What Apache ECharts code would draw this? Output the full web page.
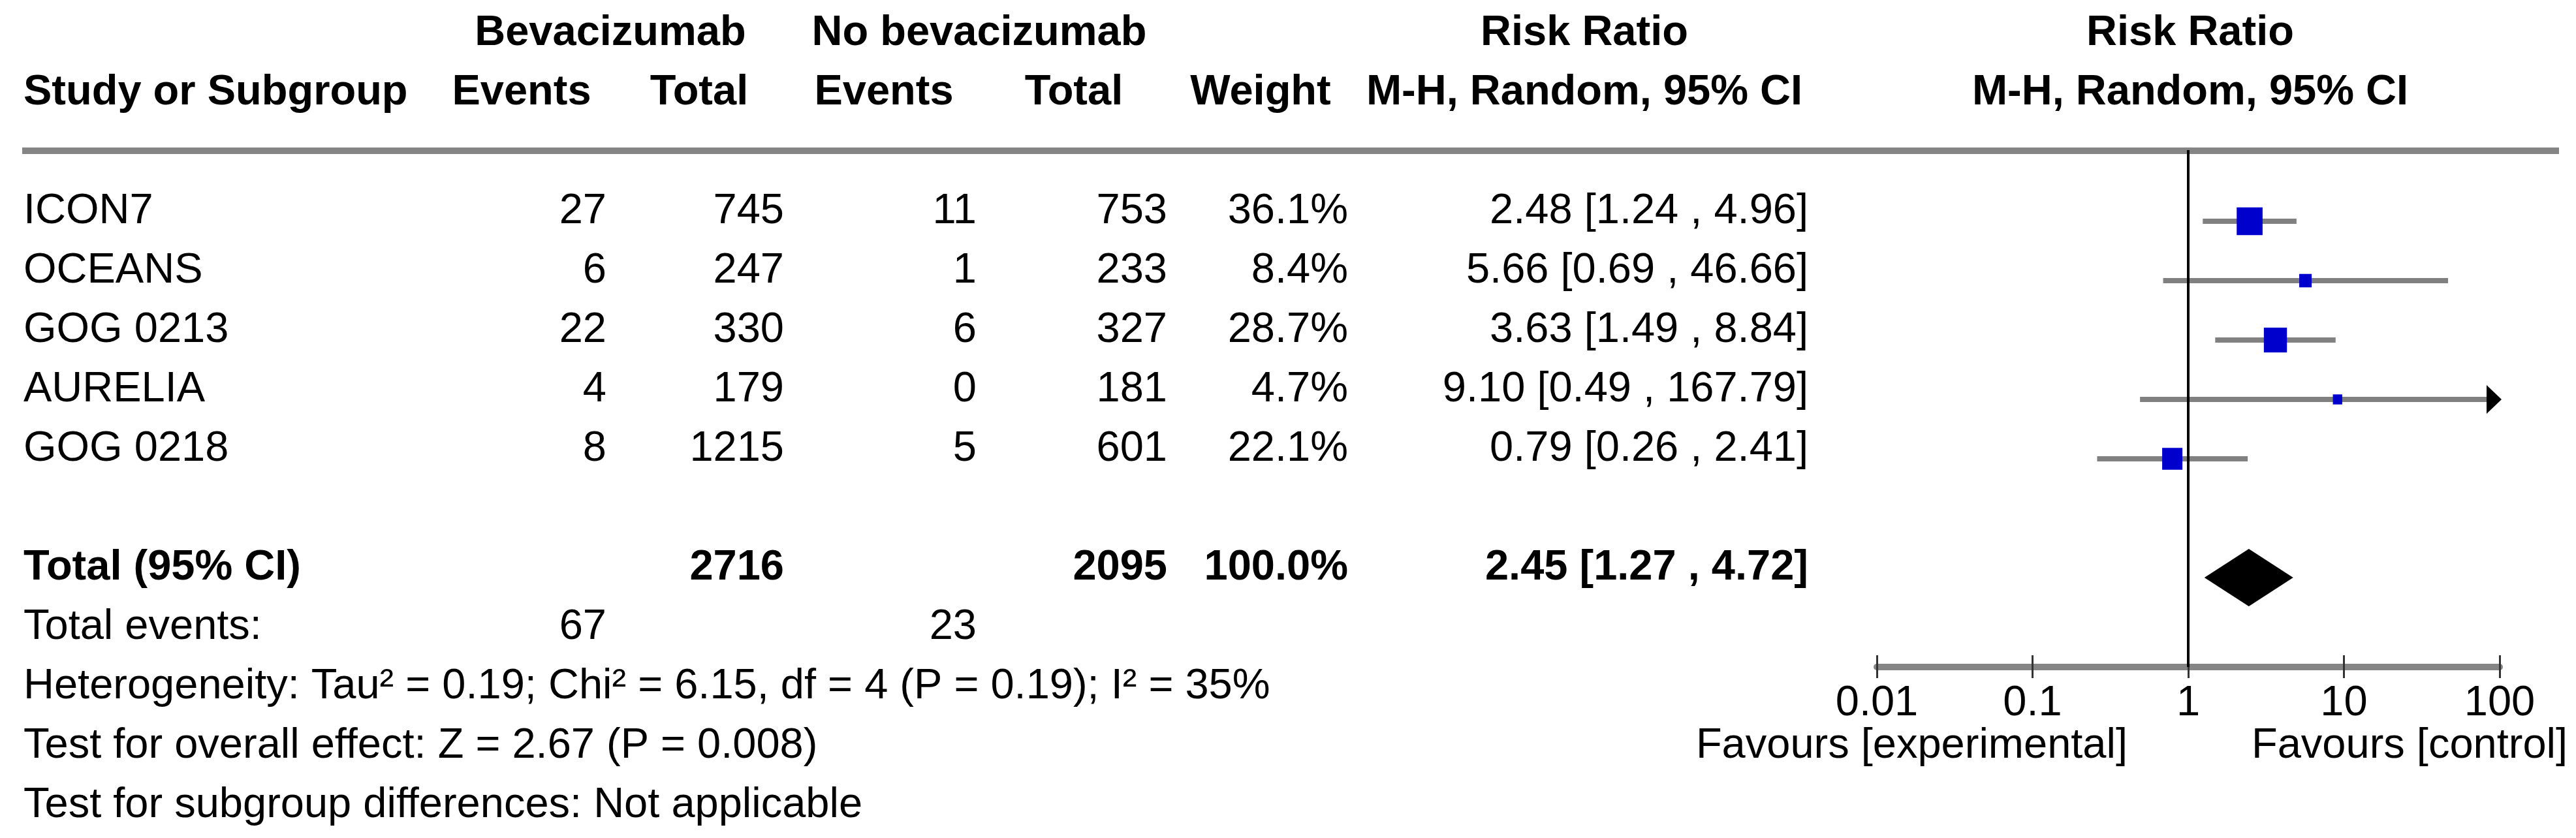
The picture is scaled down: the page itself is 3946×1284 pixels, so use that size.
<!DOCTYPE html>
<html>
<head>
<meta charset="utf-8">
<script src="https://cdn.jsdelivr.net/npm/echarts@6/dist/echarts.min.js"></script>
<style>
html,body{margin:0;padding:0;background:#fff;}
#chart{width:3946px;height:1284px;}
</style>
</head>
<body>
<div id="chart"></div>
<script>
// ---------------- DATA ----------------
const studies      = ['ICON7', 'OCEANS', 'GOG 0213', 'AURELIA', 'GOG 0218'];
const bevEvents    = [27, 6, 22, 4, 8];
const bevTotal     = [745, 247, 330, 179, 1215];
const noBevEvents  = [11, 1, 6, 0, 5];
const noBevTotal   = [753, 233, 327, 181, 601];
const weights      = [36.1, 8.4, 28.7, 4.7, 22.1];
const rrEst        = [2.48, 5.66, 3.63, 9.10, 0.79];
const rrLow        = [1.24, 0.69, 1.49, 0.49, 0.26];
const rrHigh       = [4.96, 46.66, 8.84, 167.79, 2.41];

const totalBevTotal   = 2716;
const totalNoBevTotal = 2095;
const totalWeight     = 100.0;
const totalBevEvents  = 67;
const totalNoBevEvents = 23;
const pooledEst  = 2.45;
const pooledLow  = 1.27;
const pooledHigh = 4.72;

const heterogeneityText = 'Heterogeneity: Tau\u00b2 = 0.19; Chi\u00b2 = 6.15, df = 4 (P = 0.19); I\u00b2 = 35%';
const overallText   = 'Test for overall effect: Z = 2.67 (P = 0.008)';
const subgroupText  = 'Test for subgroup differences: Not applicable';

const tickValues = [0.01, 0.1, 1, 10, 100];
const tickLabels = ['0.01', '0.1', '1', '10', '100'];
const favoursLeft  = 'Favours [experimental]';
const favoursRight = 'Favours [control]';

// ---------------- LAYOUT ----------------
const W = 3946, H = 1284;
const ROW0 = 339, ROWH = 91;            // pixel y of row 0 marker centre, row pitch
const TEXT_SHIFT = -15;                 // text centre relative to marker row centre
const FONT = '"Liberation Sans", Arial, sans-serif';
const FS = 65;
const COL = {name: 36, bevEv: 929, bevTot: 1201, nobEv: 1496, nobTot: 1788, weight: 2065, rr: 2770};
const HDR = {bev: 935, nobev: 1500, ev1: 799, tot1: 1071, ev2: 1354, tot2: 1645, weight: 1931, rr: 2427, plot: 3355};
const PLOT = {x0: 2875, x1: 3829, top: 230, bottom: 1022};
const rowOf = px => (px - ROW0) / ROWH;

const fmt2 = v => v.toFixed(2);
const ciText = (e, l, h) => fmt2(e) + ' [' + fmt2(l) + ' , ' + fmt2(h) + ']';

// ---------------- TABLE CELLS ----------------
const cells = [];
function cell(x, row, text, align, bold) { cells.push({x, row, text: String(text), align, bold: !!bold}); }
// headers
cell(HDR.bev, -3, 'Bevacizumab', 'center', true);
cell(HDR.nobev, -3, 'No bevacizumab', 'center', true);
cell(HDR.rr, -3, 'Risk Ratio', 'center', true);
cell(HDR.plot, -3, 'Risk Ratio', 'center', true);
cell(COL.name, -2, 'Study or Subgroup', 'left', true);
cell(HDR.ev1, -2, 'Events', 'center', true);
cell(HDR.tot1, -2, 'Total', 'center', true);
cell(HDR.ev2, -2, 'Events', 'center', true);
cell(HDR.tot2, -2, 'Total', 'center', true);
cell(HDR.weight, -2, 'Weight', 'center', true);
cell(HDR.rr, -2, 'M-H, Random, 95% CI', 'center', true);
cell(HDR.plot, -2, 'M-H, Random, 95% CI', 'center', true);
// study rows
studies.forEach((s, i) => {
  cell(COL.name, i, s, 'left');
  cell(COL.bevEv, i, bevEvents[i], 'right');
  cell(COL.bevTot, i, bevTotal[i], 'right');
  cell(COL.nobEv, i, noBevEvents[i], 'right');
  cell(COL.nobTot, i, noBevTotal[i], 'right');
  cell(COL.weight, i, weights[i].toFixed(1) + '%', 'right');
  cell(COL.rr, i, ciText(rrEst[i], rrLow[i], rrHigh[i]), 'right');
});
const totalRow = studies.length + 1;
cell(COL.name, totalRow, 'Total (95% CI)', 'left', true);
cell(COL.bevTot, totalRow, totalBevTotal, 'right', true);
cell(COL.nobTot, totalRow, totalNoBevTotal, 'right', true);
cell(COL.weight, totalRow, totalWeight.toFixed(1) + '%', 'right', true);
cell(COL.rr, totalRow, ciText(pooledEst, pooledLow, pooledHigh), 'right', true);
cell(COL.name, totalRow + 1, 'Total events:', 'left');
cell(COL.bevEv, totalRow + 1, totalBevEvents, 'right');
cell(COL.nobEv, totalRow + 1, totalNoBevEvents, 'right');
cell(COL.name, totalRow + 2, heterogeneityText, 'left');
cell(COL.name, totalRow + 3, overallText, 'left');
cell(COL.name, totalRow + 4, subgroupText, 'left');
cell(3259, totalRow + 3, favoursLeft, 'right');
cell(3449, totalRow + 3, favoursRight, 'left');

// ---------------- FOREST DATA ----------------
const ciData = studies.map((s, i) => [rrLow[i], rrHigh[i], i]);
const sqData = studies.map((s, i) => [rrEst[i], i, weights[i]]);
const diamondData = [[pooledEst, pooledLow, pooledHigh, totalRow]];

const chart = echarts.init(document.getElementById('chart'), null, {renderer: 'canvas', width: W, height: H});

const option = {
  backgroundColor: '#ffffff',
  animation: false,
  grid: [
    {left: 0, top: 0, width: W, height: H},
    {left: PLOT.x0, top: PLOT.top, width: PLOT.x1 - PLOT.x0, height: PLOT.bottom - PLOT.top}
  ],
  xAxis: [
    {gridIndex: 0, type: 'value', min: 0, max: W, show: false},
    {gridIndex: 1, type: 'log', logBase: 10, min: 0.01, max: 100, position: 'bottom',
      axisLine: {show: true, onZero: false, lineStyle: {color: '#858585', width: 10}},
      axisTick: {show: true, inside: true, length: 18, lineStyle: {color: '#333', width: 3}},
      axisLabel: {show: false},
      splitLine: {show: false}},
    {gridIndex: 1, type: 'log', logBase: 10, min: 0.01, max: 100, position: 'bottom',
      axisLine: {show: false, onZero: false},
      axisTick: {show: true, inside: false, length: 17, lineStyle: {color: '#333', width: 3}},
      axisLabel: {show: true, color: '#000', fontSize: FS, fontFamily: FONT, margin: 24,
        formatter: v => {
          const k = tickValues.findIndex(t => Math.abs(Math.log10(t) - Math.log10(v)) < 1e-6);
          return k >= 0 ? tickLabels[k] : '';
        }},
      splitLine: {show: false}}
  ],
  yAxis: [
    {gridIndex: 0, type: 'value', inverse: true, min: rowOf(0), max: rowOf(H), show: false},
    {gridIndex: 1, type: 'value', inverse: true, min: rowOf(PLOT.top), max: rowOf(PLOT.bottom), show: false}
  ],
  graphic: [
    {type: 'line', z: 5, shape: {x1: 34, y1: 231, x2: 3920, y2: 231}, style: {stroke: '#858585', lineWidth: 10}}
  ],
  series: [
    {
      type: 'custom', xAxisIndex: 0, yAxisIndex: 0, silent: true,
      data: cells.map(c => [c.x, c.row]),
      renderItem: (params, api) => {
        const c = cells[params.dataIndex];
        const p = api.coord([c.x, c.row]);
        return {
          type: 'text',
          style: {
            x: p[0], y: p[1] + TEXT_SHIFT, text: c.text, fill: '#000',
            fontSize: FS, fontFamily: FONT, fontWeight: c.bold ? 'bold' : 'normal',
            align: c.align, verticalAlign: 'middle'
          }
        };
      }
    },
    {
      // confidence interval lines (with arrow when beyond axis)
      type: 'custom', xAxisIndex: 1, yAxisIndex: 1, silent: true, z: 3,
      data: ciData,
      renderItem: (params, api) => {
        const lo = api.value(0), hi = api.value(1), row = api.value(2);
        const maxV = 100, minV = 0.01;
        const pL = api.coord([Math.max(lo, minV), row]);
        const pH = api.coord([Math.min(hi, maxV), row]);
        const children = [];
        let xEnd = pH[0];
        if (hi > maxV) xEnd = pH[0] - 19;
        children.push({type: 'line', shape: {x1: pL[0], y1: pL[1], x2: xEnd, y2: pH[1]},
          style: {stroke: '#808080', lineWidth: 8}});
        if (hi > maxV) {
          children.push({type: 'polygon', shape: {points: [[pH[0] - 20, pH[1] - 22], [pH[0] + 3, pH[1]], [pH[0] - 20, pH[1] + 22]]},
            style: {fill: '#000'}});
        }
        return {type: 'group', children};
      },
      markLine: {
        silent: true, symbol: ['none', 'none'], label: {show: false},
        lineStyle: {color: '#000', width: 4, type: 'solid'},
        data: [{xAxis: 1}]
      }
    },
    {
      // study squares
      type: 'scatter', xAxisIndex: 1, yAxisIndex: 1, silent: true, z: 4,
      symbol: 'rect',
      symbolSize: v => [6.6 * Math.sqrt(v[2]), 7.1 * Math.sqrt(v[2])],
      itemStyle: {color: '#0000cc', opacity: 1},
      data: sqData
    },
    {
      // pooled diamond
      type: 'custom', xAxisIndex: 1, yAxisIndex: 1, silent: true, z: 4,
      data: diamondData,
      renderItem: (params, api) => {
        const row = api.value(3);
        const pE = api.coord([api.value(0), row]);
        const pL = api.coord([api.value(1), row]);
        const pH = api.coord([api.value(2), row]);
        const hh = 44;
        return {type: 'polygon', shape: {points: [[pL[0], pE[1]], [pE[0], pE[1] - hh], [pH[0], pE[1]], [pE[0], pE[1] + hh]]},
          style: {fill: '#000'}};
      }
    }
  ]
};
chart.setOption(option);
</script>
</body>
</html>
